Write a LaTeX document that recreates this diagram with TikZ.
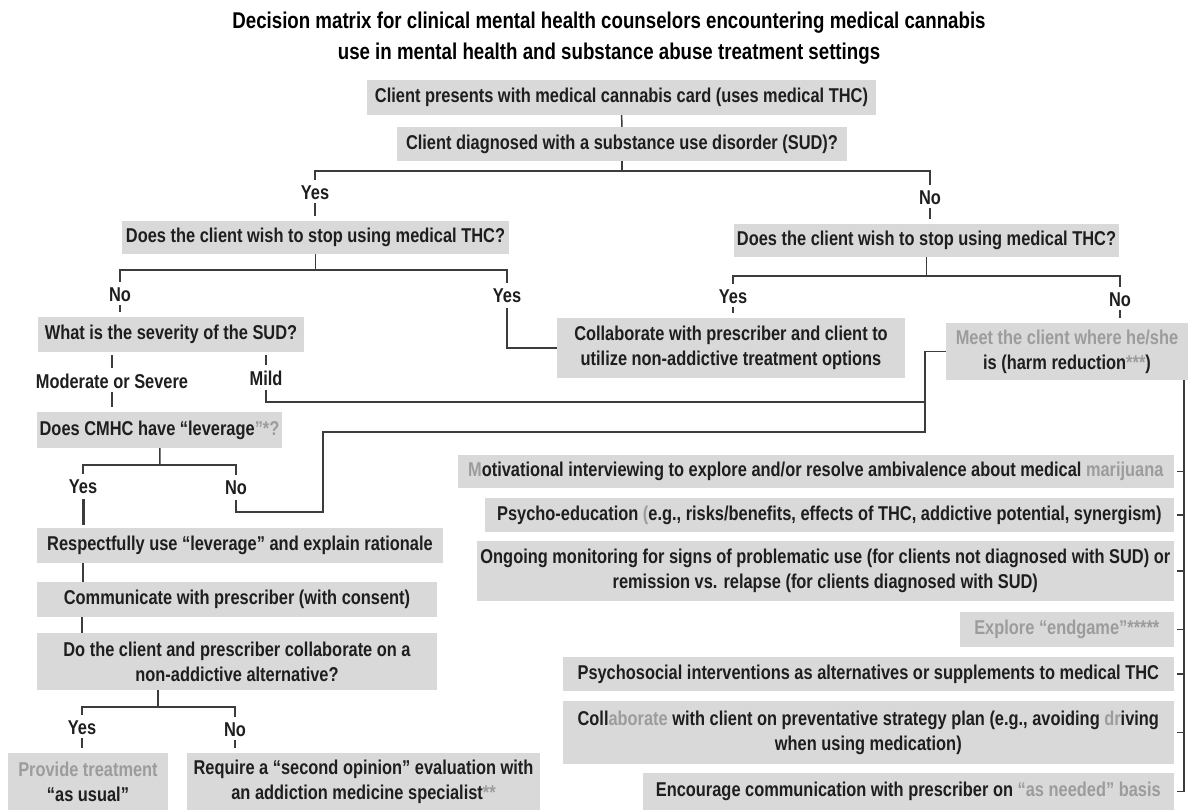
\documentclass[tikz,border=0pt]{standalone}
\usepackage{fontspec}
\setmainfont{Liberation Sans}[FakeStretch=0.82]
\usetikzlibrary{calc}
\definecolor{boxfill}{HTML}{D9D9D9}
\definecolor{inkgray}{HTML}{1E1E1E}
\definecolor{faded}{HTML}{9C9C9C}
\definecolor{wirecol}{HTML}{3C3C3C}
\newcommand{\fd}[1]{\textcolor{faded}{#1}}

\begin{document}
\begin{tikzpicture}[x=1pt, y=-1pt,
  every node/.style={font=\fontsize{20}{25}\selectfont\bfseries, text=inkgray, inner sep=0pt},
  qbox/.style={fill=boxfill, align=center},
  wire/.style={draw=wirecol, line width=1.5pt},
  tick/.style={wire, shorten <=3pt, shorten >=5pt},
  fork/.style={wire, shorten <=6pt, shorten >=6pt}]
\useasboundingbox (0,0) rectangle (1191,810);

\node (title) at (609,38) [font=\fontsize{22.8}{31}\selectfont\bfseries, text=black, align=center]
  {Decision matrix for clinical mental health counselors encountering medical cannabis\\
   use in mental health and substance abuse treatment settings};

\node[qbox, minimum width=509pt, minimum height=35pt] (box1) at (621.5,97.5)
  {Client presents with medical cannabis card (uses medical THC)};
\node[qbox, minimum width=450pt, minimum height=34pt] (box2) at (622,144)
  {Client diagnosed with a substance use disorder (SUD)?};
\coordinate (split1) at (622,171);
\node (yesA) at (315,193) {Yes};
\node (noA) at (930,198) {No};

\node[qbox, minimum width=387pt, minimum height=33pt] (qL) at (315.5,237.5)
  {Does the client wish to stop using medical THC?};
\node[qbox, minimum width=385pt, minimum height=33pt] (qR) at (926.5,240.5)
  {Does the client wish to stop using medical THC?};
\coordinate (split2) at (315.5,270);
\coordinate (split3) at (926.5,276);
\node (noB) at (120,295) {No};
\node (yesB) at (507,296) {Yes};
\node (yesC) at (733,297) {Yes};
\node (noC) at (1120,300) {No};

\node[qbox, minimum width=266pt, minimum height=35pt] (sev) at (171,334.5)
  {What is the severity of the SUD?};
\node[qbox, minimum width=348pt, minimum height=60pt] (collab) at (731,348)
  {Collaborate with prescriber and client to\\utilize non-addictive treatment options};
\node[qbox, minimum width=242pt, minimum height=57pt] (harm) at (1067,351.5)
  {\fd{Meet the client where he/she}\\is (harm reduction\fd{***})};
\node (modsev) at (112,381) {Moderate or Severe};
\node (mild) at (266,378) {Mild};
\coordinate (j1) at (925,402);
\coordinate (j2) at (925,432);
\coordinate (k) at (323,512);

\node[qbox, minimum width=245pt, minimum height=36pt] (cmhc) at (159.5,430)
  {Does CMHC have ``leverage\fd{''*?}};
\coordinate (split4) at (160,465);
\node (yesD) at (83,487) {Yes};
\node (noD) at (236,488) {No};
\node[qbox, minimum width=406pt, minimum height=35pt] (resp) at (240,545.5)
  {Respectfully use ``leverage'' and explain rationale};
\node[qbox, minimum width=400pt, minimum height=35pt] (comm) at (237,599.5)
  {Communicate with prescriber (with consent)};
\node[qbox, minimum width=400pt, minimum height=57pt] (doclient) at (237,661.5)
  {Do the client and prescriber collaborate on a\\non-addictive alternative?};
\coordinate (split5) at (158,707);
\node (yesE) at (82,728) {Yes};
\node (noE) at (235,730) {No};
\node[qbox, minimum width=160pt, minimum height=57pt] (provide) at (88,781.5)
  {\fd{Provide treatment}\\``as usual''};
\node[qbox, minimum width=353pt, minimum height=57pt] (require) at (363.5,781.5)
  {Require a ``second opinion'' evaluation with\\an addiction medicine specialist\fd{**}};

\node[qbox, anchor=east, minimum width=716pt, minimum height=33pt] (mot) at (1174,471.5)
  {\fd{M}otivational interviewing to explore and/or resolve ambivalence about medical \fd{marijuana}};
\node[qbox, anchor=east, minimum width=689pt, minimum height=34pt] (psy) at (1174,515)
  {Psycho-education \fd{(}e.g., risks/benefits, effects of THC, addictive potential, synergism)};
\node[qbox, anchor=east, minimum width=697pt, minimum height=60pt] (ong) at (1174,571)
  {Ongoing monitoring for signs of problematic use (for clients not diagnosed with SUD) or\\remission vs. relapse (for clients diagnosed with SUD)};
\node[qbox, anchor=east, minimum width=214pt, minimum height=35pt] (expl) at (1174,629.5)
  {\fd{Explore ``endgame''*****}};
\node[qbox, anchor=east, minimum width=611pt, minimum height=34pt] (psysoc) at (1174,674)
  {Psychosocial interventions as alternatives or supplements to medical THC};
\node[qbox, anchor=east, minimum width=611pt, minimum height=63pt] (colcl) at (1174,732.5)
  {Coll\fd{aborate} with client on preventative strategy plan (e.g., avoiding \fd{dr}iving\\when using medication)};
\node[qbox, anchor=east, minimum width=531pt, minimum height=37pt] (enc) at (1174,791.5)
  {Encourage communication with prescriber on \fd{``as needed'' basis}};
\coordinate (spine) at (1184,380);

\draw[wire] (box1) -- (box2);
\draw[wire] (box2) -- (split1);
\draw[fork] (yesA) |- (split1) -| (noA);
\draw[tick] (yesA.south) -- (yesA.south |- qL.north);
\draw[tick] (noA.south) -- (noA.south |- qR.north);

\draw[wire] (qL) -- (split2);
\draw[fork] (noB) |- (split2) -| (yesB);
\draw[wire, shorten <=5pt] (yesB) |- (collab);
\draw[tick] (noB.south) -- (noB.south |- sev.north);
\draw[wire] (qR) -- (split3);
\draw[fork] (yesC) |- (split3) -| (noC);
\draw[tick] (yesC.south) -- (yesC.south |- collab.north);
\draw[tick] (noC.south) -- (noC.south |- harm.north);

\draw[tick] (modsev.north |- sev.south) -- (modsev.north);
\draw[tick] (mild.north |- sev.south) -- (mild.north);
\draw[wire, shorten <=4pt] (mild) |- (j1);
\draw[wire, shorten >=5pt] (harm.west) -| (j2) -| (k) -| (noD);
\draw[tick] (modsev.south) -- (modsev.south |- cmhc.north);

\draw[wire] (cmhc) -- (split4);
\draw[fork] (yesD) |- (split4) -| (noD);
\draw[wire, line width=3pt, shorten <=5pt, shorten >=3pt] (yesD.south) -- (yesD.south |- resp.north);
\draw[wire] (resp.south -| yesD) -- (comm.north -| yesD);
\draw[wire] (comm.south -| yesE) -- (doclient.north -| yesE);
\draw[wire] (doclient.south -| split5) -- (split5);
\draw[fork] (yesE) |- (split5) -| (noE);
\draw[tick] (yesE.south) -- (yesE.south |- provide.north);
\draw[tick] (noE.south) -- (noE.south |- require.north);

\draw[wire] (spine) -- (spine |- enc.east);
\foreach \b in {mot,psy,ong,expl,psysoc,colcl,enc}
  \draw[wire] ([xshift=3pt]\b.east) -- (\b.east -| spine);
\end{tikzpicture}
\end{document}
